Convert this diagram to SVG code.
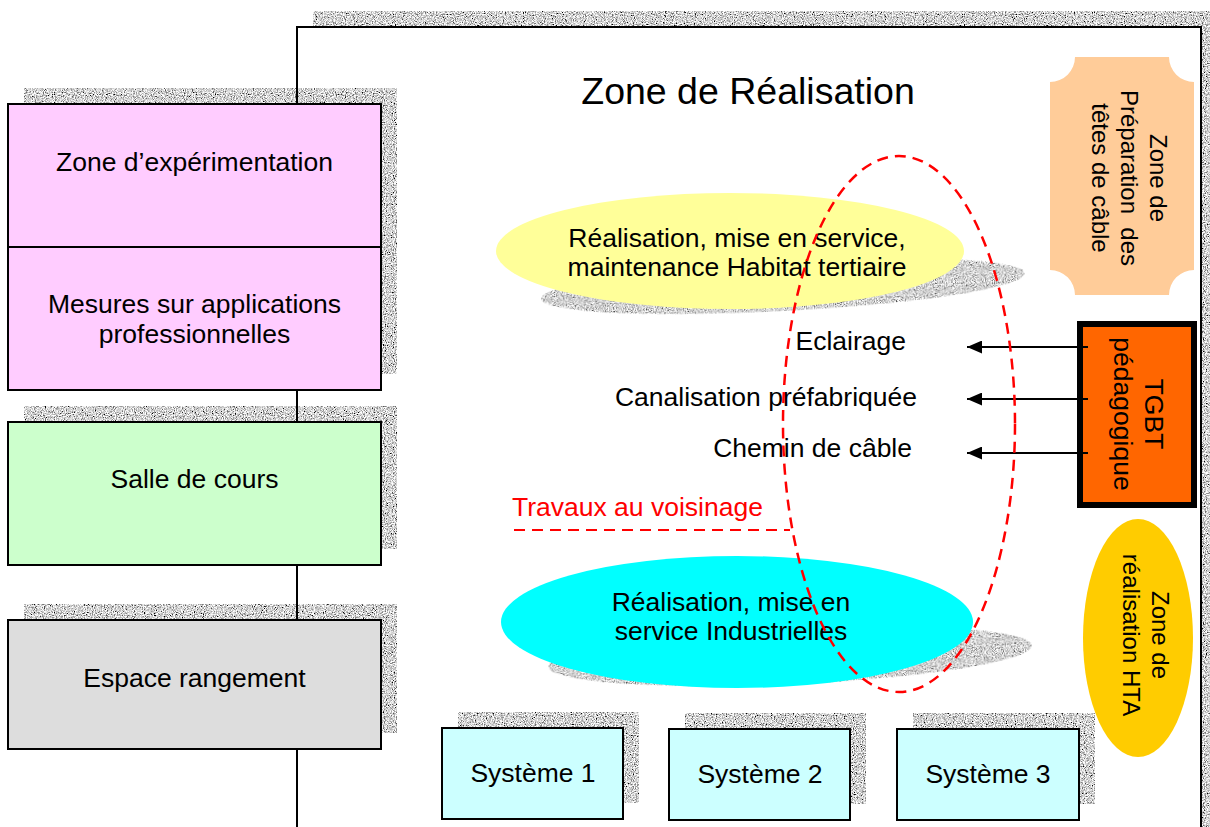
<svg xmlns="http://www.w3.org/2000/svg" width="1210" height="827" viewBox="0 0 1210 827">
<style>
text{font-family:"Liberation Sans",Arial,sans-serif;fill:#000}
.t26{font-size:26.5px}
.t24{font-size:24px}
.mid{text-anchor:middle}
.end{text-anchor:end}
.box{stroke:#000;stroke-width:2}
.sh{fill:#9a9a9a;filter:url(#noise)}
.red{stroke:#ff0000;stroke-width:2.5;stroke-dasharray:11 7;fill:none}
.arr{stroke:#000;stroke-width:2;marker-end:url(#ah)}
</style>
<defs>
<filter id="noise" x="-5%" y="-5%" width="110%" height="110%">
<feTurbulence type="fractalNoise" baseFrequency="0.9" numOctaves="2" seed="4" result="t"/>
<feColorMatrix in="t" type="matrix" values="2.4 0 0 0 -0.55  2.4 0 0 0 -0.55  2.4 0 0 0 -0.55  0 0 0 0 1" result="g"/>
<feComposite in="g" in2="SourceAlpha" operator="in"/>
</filter>
<marker id="ah" markerUnits="userSpaceOnUse" markerWidth="15" markerHeight="13" refX="15" refY="6.5" orient="auto">
<path d="M0,0 L15,6.5 L0,13 z" fill="#000"/>
</marker>
</defs>

<g id="frame">
<rect class="sh" x="313" y="11" width="904" height="900"/>
<rect x="297" y="27" width="904" height="900" fill="#fff"/>
</g>

<g id="shadows-left">
<rect class="sh" x="24" y="88" width="373" height="286"/>
<rect class="sh" x="24" y="406" width="373" height="143"/>
<rect class="sh" x="24" y="604" width="373" height="129"/>
</g>
<rect id="frame-outline" x="297" y="27" width="904" height="900" fill="none" stroke="#000" stroke-width="2"/>

<g id="zone-experimentation">
<rect class="box" x="8" y="104" width="373" height="143" fill="#ffccff"/>
<text class="t26 mid" x="194.5" y="171">Zone d’expérimentation</text>
</g>
<g id="mesures">
<rect class="box" x="8" y="247" width="373" height="143" fill="#ffccff"/>
<text class="t26 mid" x="194.5" y="313">Mesures sur applications</text>
<text class="t26 mid" x="194.5" y="343">professionnelles</text>
</g>
<g id="salle-de-cours">
<rect class="box" x="8" y="422" width="373" height="143" fill="#ccffcc"/>
<text class="t26 mid" x="194.5" y="488">Salle de cours</text>
</g>
<g id="espace-rangement">
<rect class="box" x="8" y="620" width="373" height="129" fill="#dddddd"/>
<text class="t26 mid" x="194.5" y="687">Espace rangement</text>
</g>

<g id="title">
<text class="mid" x="748" y="104" style="font-size:37.5px">Zone de Réalisation</text>
</g>

<g id="preparation">
<path d="M1075,57 L1169,57 A25,25 0 0 0 1194,82 L1194,270 A25,25 0 0 0 1169,295 L1075,295 A25,25 0 0 0 1050,270 L1050,82 A25,25 0 0 0 1075,57 Z" fill="#ffcc99"/>
<g transform="translate(1122,178) rotate(90)">
<text class="t24 mid" x="0" y="-28">Zone de</text>
<text class="t24 mid" x="0" y="1">Préparation&#160; des</text>
<text class="t24 mid" x="0" y="30">têtes de câble</text>
</g>
</g>

<g id="habitat">
<ellipse class="sh" cx="783" cy="286" rx="242" ry="25" transform="rotate(-3 783 286)"/>
<ellipse cx="730" cy="251" rx="234" ry="58" fill="#ffff99"/>
<text class="t26 mid" x="737" y="247">Réalisation, mise en service,</text>
<text class="t26 mid" x="737" y="276">maintenance Habitat tertiaire</text>
</g>

<g id="industrielles">
<ellipse class="sh" cx="790" cy="656" rx="242" ry="28" transform="rotate(-2.5 790 656)"/>
<ellipse cx="737" cy="622" rx="236" ry="66" fill="#00ffff"/>
<text class="t26 mid" x="731" y="611">Réalisation, mise en</text>
<text class="t26 mid" x="731" y="640">service Industrielles</text>
</g>

<g id="labels">
<text class="t26 end" x="906" y="350">Eclairage</text>
<text class="t26 end" x="917" y="406">Canalisation préfabriquée</text>
<text class="t26 end" x="912" y="457">Chemin de câble</text>
</g>

<g id="travaux">
<text class="t26" x="512" y="516" style="fill:#ff0000">Travaux au voisinage</text>
<line class="red" x1="514" y1="530" x2="790" y2="530" style="stroke-width:2"/>
</g>

<g id="tgbt">
<rect x="1080" y="324" width="114" height="181" fill="#ff6600" stroke="#000" stroke-width="6"/>
<g transform="translate(1137,414) rotate(90)">
<text class="t26 mid" x="0" y="-8">TGBT</text>
<text class="t26 mid" x="0" y="23">pédagogique</text>
</g>
</g>

<g id="connectors">
<line class="arr" x1="1088" y1="347" x2="967" y2="347"/>
<line class="arr" x1="1088" y1="399" x2="967" y2="399"/>
<line class="arr" x1="1088" y1="453" x2="967" y2="453"/>
</g>

<g id="hta">
<ellipse cx="1138" cy="638" rx="55" ry="119" fill="#ffcc00"/>
<g transform="translate(1138,635) rotate(90)">
<text class="t24 mid" x="0" y="-14">Zone de</text>
<text class="t24 mid" x="0" y="15">réalisation HTA</text>
</g>
</g>

<g id="systeme-1">
<rect class="sh" x="458" y="712" width="181" height="91"/>
<rect class="box" x="442" y="728" width="181" height="91" fill="#ccffff"/>
<text class="t26 mid" x="533" y="782">Système 1</text>
</g>
<g id="systeme-2">
<rect class="sh" x="685" y="713" width="181" height="91"/>
<rect class="box" x="669" y="729" width="181" height="91" fill="#ccffff"/>
<text class="t26 mid" x="760" y="783">Système 2</text>
</g>
<g id="systeme-3">
<rect class="sh" x="913" y="713" width="182" height="91"/>
<rect class="box" x="897" y="729" width="182" height="91" fill="#ccffff"/>
<text class="t26 mid" x="988" y="783">Système 3</text>
</g>

<g id="zone-voisinage">
<ellipse class="red" cx="899" cy="424" rx="116" ry="268"/>
</g>
</svg>
